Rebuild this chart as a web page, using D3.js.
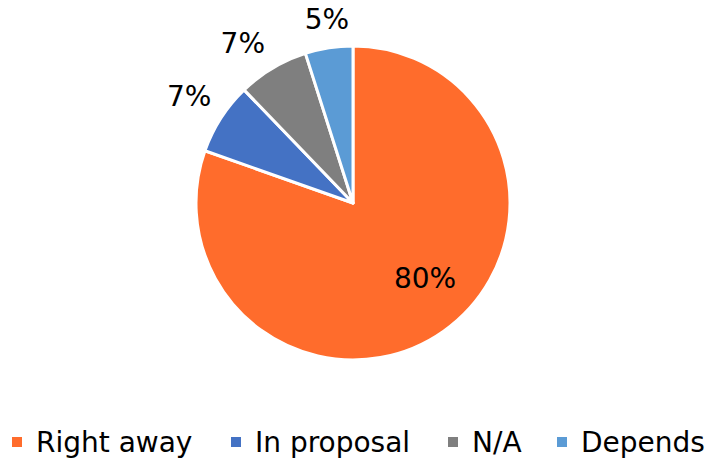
<!DOCTYPE html>
<html>
<head>
<meta charset="utf-8">
<script src="https://cdn.jsdelivr.net/npm/d3@7/dist/d3.min.js"></script>
<style>
  html, body { margin: 0; padding: 0; background: #fff; }
</style>
</head>
<body>
<div id="chart"></div>
<script>
  var categories = ['Right away', 'In proposal', 'N/A', 'Depends'];
  var values = [80.4, 7.4, 7.3, 4.9];
  var colors = ['#FF6C2C', '#4472C4', '#7F7F7F', '#5B9BD5'];

  var w = 707, h = 463;
  var FONT = '"DejaVu Sans", Verdana, sans-serif';
  var cx = 353, cy = 203, r = 157;

  var svg = d3.select('#chart').append('svg').attr('width', w).attr('height', h);
  var g = svg.append('g').attr('transform', 'translate(' + cx + ',' + cy + ')');

  var data = categories.map(function(c, i) { return { name: c, value: values[i], color: colors[i] }; });
  var pie = d3.pie().sort(null).value(function(d) { return d.value; });
  var arcs = pie(data);
  var arc = d3.arc().innerRadius(0).outerRadius(r);

  // Slices
  g.selectAll('path').data(arcs).join('path')
    .attr('d', arc)
    .attr('fill', function(d) { return d.data.color; })
    .attr('stroke', '#fff').attr('stroke-width', 3).attr('stroke-linejoin', 'round');

  // Labels: big one inside, small ones outside (small nudges like Excel's best fit)
  var inArc = d3.arc().innerRadius(104).outerRadius(104);
  var outArc = d3.arc().innerRadius(190).outerRadius(190);
  var nudge = [[12, -10], [-4, -4], [-13, 3], [3, 4]];
  g.selectAll('text.lbl').data(arcs).join('text')
    .attr('class', 'lbl')
    .attr('transform', function(d, i) {
      var p = i === 0 ? inArc.centroid(d) : outArc.centroid(d);
      return 'translate(' + (p[0] + nudge[i][0]) + ',' + (p[1] + nudge[i][1]) + ')';
    })
    .attr('text-anchor', 'middle').attr('dy', '0.35em')
    .attr('font-family', FONT).attr('font-size', '28px').attr('fill', '#000')
    .text(function(d) { return Math.round(d.data.value) + '%'; });

  // Legend
  var legendX = [12, 231, 448, 557];
  var legY = 442;
  var leg = svg.append('g');
  data.forEach(function(d, i) {
    leg.append('rect').attr('x', legendX[i]).attr('y', legY - 5).attr('width', 10).attr('height', 10)
      .attr('fill', d.color);
    leg.append('text').attr('x', legendX[i] + 24).attr('y', legY).attr('dy', '0.35em')
      .attr('font-family', FONT).attr('font-size', '28px').attr('fill', '#000')
      .text(d.name);
  });
</script>
</body>
</html>
